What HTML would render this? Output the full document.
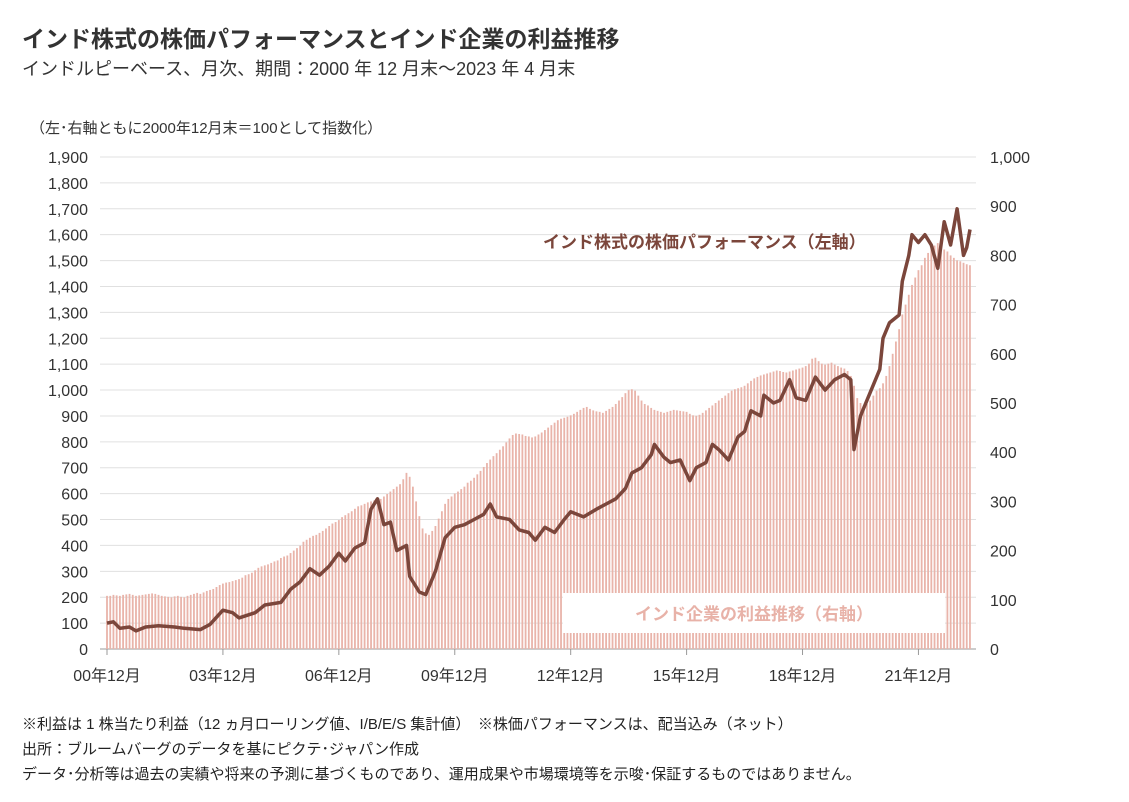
<!DOCTYPE html>
<html><head><meta charset="utf-8">
<style>
body{margin:0;width:1129px;height:802px;background:#fff;font-family:"Liberation Sans","Noto Sans CJK JP",sans-serif;color:#222;overflow:hidden;position:relative}
.t{position:absolute;white-space:nowrap}
</style></head><body>
<div class="t" style="left:22px;top:20px;font-size:23px;font-weight:bold;color:#333">インド株式の株価パフォーマンスとインド企業の利益推移</div>
<div class="t" style="left:22px;top:55px;font-size:18px;color:#333">インドルピーベース、月次、期間：2000 年 12 月末～2023 年 4 月末</div>
<div class="t" style="left:30px;top:117px;font-size:15px;color:#333">（左･右軸ともに2000年12月末＝100として指数化）</div>
<svg id="chart" width="1129" height="700" style="position:absolute;left:0;top:0"></svg>
<div class="t" style="left:22px;top:713px;font-size:15px">※利益は 1 株当たり利益（12 ヵ月ローリング値、I/B/E/S 集計値）　※株価パフォーマンスは、配当込み（ネット）</div>
<div class="t" style="left:22px;top:738px;font-size:15px">出所：ブルームバーグのデータを基にピクテ･ジャパン作成</div>
<div class="t" style="left:22px;top:763px;font-size:15px">データ･分析等は過去の実績や将来の予測に基づくものであり、運用成果や市場環境等を示唆･保証するものではありません。</div>
<script>
const leftTicks=[0,100,200,300,400,500,600,700,800,900,1000,1100,1200,1300,1400,1500,1600,1700,1800,1900];
const rightTicks=[0,100,200,300,400,500,600,700,800,900,1000];
const xLabels=["00年12月","03年12月","06年12月","09年12月","12年12月","15年12月","18年12月","21年12月"];
const earnings=[108,
108,110,109,108,110,111,112,110,108,109,110,111,
112,113,112,110,108,107,106,105,107,108,106,105,
108,110,112,114,112,115,118,120,122,126,130,133,
135,136,138,140,142,145,150,152,155,160,165,168,
170,172,175,178,180,185,188,190,195,200,205,210,
218,222,226,230,232,236,240,245,250,255,258,262,
268,272,276,280,285,290,292,295,298,300,302,300,
305,310,315,320,325,330,335,345,358,350,330,300,
270,245,235,232,240,250,265,280,295,305,310,316,
320,325,330,338,342,348,355,362,370,378,385,392,
398,405,412,420,428,435,438,437,436,433,432,430,
432,436,440,445,450,455,460,465,468,470,472,475,
478,482,486,490,492,488,485,483,482,480,484,488,
492,498,505,512,520,526,528,525,515,505,498,495,
490,486,484,482,480,482,484,486,485,484,483,482,
478,475,474,476,480,485,490,495,500,505,510,515,
520,525,528,530,532,535,540,545,550,553,556,558,
560,562,564,566,565,563,562,564,566,568,570,572,
575,580,590,592,585,580,578,580,582,578,575,572,
570,565,555,535,510,500,495,498,505,515,525,530,
540,555,575,600,625,650,680,700,720,740,755,770,
780,795,805,815,820,825,818,812,808,800,795,790,
788,785,782,780];
const priceMonths=[0,2,4,7,9,12,16,21,24,29,32,36,39,41,46,49,54,57,60,63,66,69,72,74,77,80,82,84,86,88,90,93,94,97,99,102,105,108,111,114,117,119,121,125,128,131,133,136,139,142,144,148,152,155,158,161,163,166,169,170,173,175,178,181,183,186,188,190,193,196,198,200,203,204,207,209,212,214,217,220,223,226,229,231,232,234,236,240,241,243,246,247,249,250,252,254,256,258,260,262,264,266,267,268];
const priceValues=[100,105,80,85,70,85,90,85,80,75,95,150,140,120,140,170,180,230,260,310,285,320,370,340,390,410,540,580,480,490,380,400,280,220,210,300,430,470,480,500,520,560,510,500,460,450,420,470,450,500,530,510,540,560,580,620,680,700,750,790,740,720,730,650,700,720,790,770,730,820,840,920,900,980,950,960,1040,970,960,1050,1000,1040,1060,1040,770,900,960,1080,1200,1260,1290,1420,1520,1600,1570,1600,1560,1470,1650,1560,1700,1520,1550,1620];

const NS="http://www.w3.org/2000/svg";
const svg=document.getElementById('chart');
const X0=107,DX=3.22,Y0=649,YTOP=157;
const xs=m=>X0+m*DX;
const yL=v=>Y0-(v/1900)*(Y0-YTOP);
const yR=v=>Y0-(v/1000)*(Y0-YTOP);
function mk(tag,attrs){const e=document.createElementNS(NS,tag);for(const k in attrs)e.setAttribute(k,attrs[k]);svg.appendChild(e);return e;}
leftTicks.forEach(v=>{
  const g=mk('line',{x1:100,x2:976,y1:yL(v),y2:yL(v),stroke:v===0?'#999':'#e0e0e0','stroke-width':1});
  
  
  const t=mk('text',{x:88,y:yL(v)+6,'text-anchor':'end','font-size':16,fill:'#333'});
  t.textContent=v.toLocaleString('en-US');
  
  
});
rightTicks.forEach(v=>{
  const t=mk('text',{x:990,y:yR(v)+6,'font-size':16,fill:'#333'});
  t.textContent=v.toLocaleString('en-US');
  
  
});
xLabels.forEach((l,i)=>{
  const t=mk('text',{x:xs(i*36),y:681,'text-anchor':'middle','font-size':16,fill:'#333'});
  t.textContent=l;
  
  
  const tk=mk('line',{x1:xs(i*36),x2:xs(i*36),y1:649,y2:655,stroke:'#999'});
  
  
});
earnings.forEach((v,i)=>{
  const b=mk('rect',{x:xs(i)-0.9,y:yR(v),width:1.8,height:Y0-yR(v),fill:'#e9b4aa'});
  
  
});
const lb=mk('rect',{x:563,y:593,width:382,height:40,fill:'#fff'});


const lt=mk('text',{x:754,y:620,'text-anchor':'middle','font-size':17,'font-weight':'bold',fill:'#e8b2a8'});
lt.textContent='インド企業の利益推移（右軸）';


const pts=priceMonths.map((m,i)=>xs(m).toFixed(1)+','+yL(priceValues[i]).toFixed(1)).join(' ');
const pl=mk('polyline',{points:pts,fill:'none',stroke:'#7b463b','stroke-width':3.5,'stroke-linejoin':'round'});


const pt=mk('text',{x:543,y:248,'font-size':17,'font-weight':'bold',fill:'#7b463b'});
pt.textContent='インド株式の株価パフォーマンス（左軸）';


</script>
</body></html>
